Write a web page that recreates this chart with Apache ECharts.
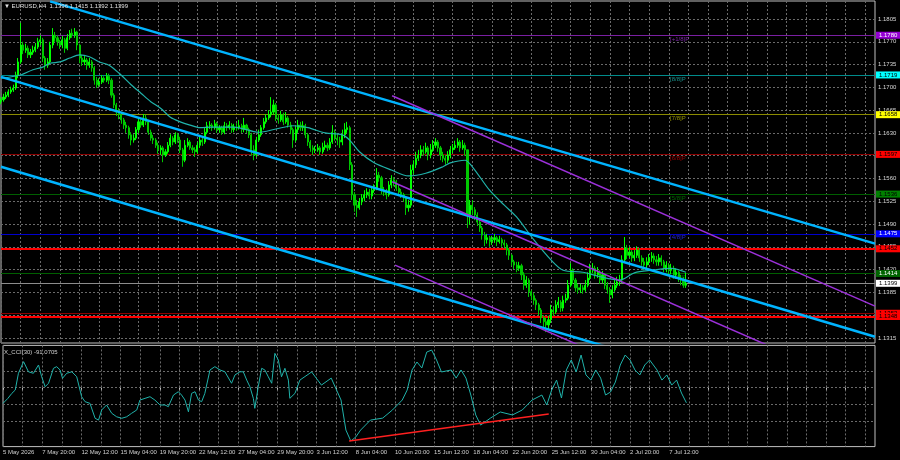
<!DOCTYPE html>
<html><head><meta charset="utf-8">
<script src="https://cdn.jsdelivr.net/npm/echarts@6/dist/echarts.min.js"></script>
<style>html,body{margin:0;padding:0;background:#000;}#c{width:900px;height:460px;}</style>
</head><body><div id="c"></div>
<script>
// ---- data ----
const firstOpen = 1.1678;
const closes = [
1.1681,1.1685,1.1688,1.1693,1.1696,1.1699,1.1719,1.1739,
1.1765,1.1757,1.1760,1.1750,1.1754,1.1757,1.1762,1.1770,
1.1773,1.1745,1.1734,1.1739,1.1765,1.1780,1.1776,1.1770,
1.1765,1.1773,1.1760,1.1776,1.1783,1.1780,1.1785,1.1765,
1.1745,1.1739,1.1742,1.1734,1.1739,1.1730,1.1711,1.1704,
1.1708,1.1714,1.1711,1.1717,1.1711,1.1688,1.1673,1.1662,
1.1658,1.1650,1.1642,1.1638,1.1627,1.1619,1.1622,1.1635,
1.1647,1.1642,1.1653,1.1647,1.1631,1.1622,1.1619,1.1611,
1.1604,1.1607,1.1596,1.1601,1.1611,1.1622,1.1616,1.1627,
1.1619,1.1604,1.1588,1.1611,1.1616,1.1607,1.1604,1.1601,
1.1611,1.1619,1.1616,1.1631,1.1641,1.1642,1.1638,1.1644,
1.1635,1.1638,1.1631,1.1641,1.1638,1.1642,1.1635,1.1639,
1.1638,1.1641,1.1635,1.1642,1.1635,1.1627,1.1604,1.1596,
1.1619,1.1627,1.1638,1.1647,1.1653,1.1658,1.1662,1.1673,
1.1653,1.1650,1.1658,1.1647,1.1653,1.1642,1.1635,1.1619,
1.1635,1.1642,1.1638,1.1641,1.1627,1.1616,1.1607,1.1604,
1.1604,1.1607,1.1601,1.1608,1.1611,1.1607,1.1616,1.1631,
1.1622,1.1619,1.1616,1.1627,1.1635,1.1638,1.1581,1.1535,
1.1519,1.1515,1.1524,1.1530,1.1535,1.1539,1.1533,1.1542,
1.1545,1.1565,1.1561,1.1542,1.1539,1.1535,1.1550,1.1558,
1.1555,1.1545,1.1539,1.1535,1.1530,1.1515,1.1519,1.1573,
1.1581,1.1591,1.1596,1.1604,1.1601,1.1607,1.1596,1.1604,
1.1611,1.1616,1.1607,1.1596,1.1591,1.1588,1.1596,1.1604,
1.1607,1.1611,1.1616,1.1607,1.1611,1.1604,1.1504,1.1519,
1.1512,1.1504,1.1493,1.1484,1.1473,1.1466,1.1469,1.1463,
1.1466,1.1469,1.1463,1.1466,1.1461,1.1458,1.1450,1.1442,
1.1432,1.1427,1.1422,1.1426,1.1412,1.1396,1.1404,1.1386,
1.1380,1.1373,1.1366,1.1358,1.1346,1.1340,1.1335,1.1343,
1.1358,1.1355,1.1366,1.1370,1.1361,1.1373,1.1376,1.1396,
1.1419,1.1404,1.1392,1.1389,1.1392,1.1389,1.1396,1.1407,
1.1419,1.1422,1.1412,1.1416,1.1404,1.1412,1.1396,1.1389,
1.1381,1.1389,1.1396,1.1401,1.1404,1.1435,1.1453,1.1442,
1.1447,1.1438,1.1442,1.1450,1.1438,1.1432,1.1427,1.1432,
1.1438,1.1441,1.1435,1.1432,1.1438,1.1432,1.1422,1.1427,
1.1419,1.1422,1.1412,1.1416,1.1407,1.1404,1.1396,1.1399];
const highs = [
1.1685,1.1690,1.1693,1.1697,1.1701,1.1704,1.1724,1.1745,
1.1799,1.1770,1.1767,1.1764,1.1759,1.1764,1.1768,1.1776,
1.1780,1.1776,1.1748,1.1745,1.1770,1.1791,1.1785,1.1780,
1.1773,1.1779,1.1776,1.1782,1.1788,1.1790,1.1791,1.1787,
1.1767,1.1750,1.1748,1.1745,1.1745,1.1742,1.1733,1.1716,
1.1714,1.1719,1.1717,1.1722,1.1721,1.1714,1.1691,1.1676,
1.1668,1.1662,1.1653,1.1647,1.1641,1.1631,1.1628,1.1639,
1.1653,1.1651,1.1659,1.1658,1.1650,1.1635,1.1627,1.1622,
1.1615,1.1611,1.1610,1.1605,1.1616,1.1628,1.1625,1.1631,
1.1630,1.1624,1.1607,1.1619,1.1622,1.1619,1.1611,1.1608,
1.1616,1.1624,1.1624,1.1638,1.1647,1.1648,1.1645,1.1650,
1.1647,1.1642,1.1641,1.1647,1.1645,1.1648,1.1645,1.1644,
1.1645,1.1650,1.1644,1.1653,1.1644,1.1638,1.1630,1.1611,
1.1624,1.1635,1.1642,1.1653,1.1659,1.1665,1.1685,1.1681,
1.1676,1.1659,1.1664,1.1661,1.1662,1.1656,1.1647,1.1638,
1.1641,1.1650,1.1647,1.1648,1.1644,1.1630,1.1619,1.1611,
1.1610,1.1613,1.1610,1.1615,1.1618,1.1615,1.1622,1.1642,
1.1635,1.1628,1.1624,1.1635,1.1645,1.1647,1.1641,1.1585,
1.1539,1.1527,1.1530,1.1536,1.1542,1.1545,1.1544,1.1548,
1.1551,1.1576,1.1570,1.1564,1.1547,1.1544,1.1556,1.1565,
1.1562,1.1558,1.1550,1.1544,1.1538,1.1533,1.1527,1.1581,
1.1588,1.1601,1.1604,1.1611,1.1610,1.1615,1.1610,1.1613,
1.1619,1.1622,1.1619,1.1610,1.1601,1.1596,1.1602,1.1610,
1.1613,1.1618,1.1622,1.1619,1.1619,1.1615,1.1604,1.1527,
1.1527,1.1516,1.1508,1.1496,1.1487,1.1478,1.1475,1.1472,
1.1472,1.1475,1.1472,1.1472,1.1469,1.1466,1.1461,1.1453,
1.1444,1.1435,1.1432,1.1432,1.1429,1.1416,1.1410,1.1407,
1.1389,1.1384,1.1376,1.1369,1.1361,1.1350,1.1346,1.1349,
1.1366,1.1364,1.1373,1.1378,1.1373,1.1380,1.1383,1.1404,
1.1430,1.1422,1.1407,1.1398,1.1398,1.1396,1.1404,1.1416,
1.1429,1.1430,1.1426,1.1424,1.1419,1.1418,1.1413,1.1401,
1.1393,1.1396,1.1404,1.1409,1.1412,1.1442,1.1470,1.1458,
1.1455,1.1450,1.1450,1.1456,1.1453,1.1442,1.1438,1.1439,
1.1444,1.1447,1.1445,1.1441,1.1444,1.1442,1.1435,1.1433,
1.1430,1.1429,1.1426,1.1422,1.1418,1.1412,1.1409,1.1415];
const lows = [
1.1674,1.1678,1.1682,1.1685,1.1690,1.1693,1.1696,1.1714,
1.1736,1.1751,1.1753,1.1745,1.1745,1.1750,1.1754,1.1759,
1.1765,1.1739,1.1727,1.1730,1.1736,1.1760,1.1770,1.1764,
1.1759,1.1760,1.1753,1.1757,1.1773,1.1776,1.1776,1.1757,
1.1737,1.1733,1.1734,1.1727,1.1730,1.1724,1.1704,1.1699,
1.1701,1.1705,1.1707,1.1708,1.1705,1.1684,1.1668,1.1656,
1.1651,1.1644,1.1636,1.1630,1.1621,1.1611,1.1615,1.1619,
1.1630,1.1638,1.1639,1.1642,1.1627,1.1618,1.1613,1.1607,
1.1598,1.1596,1.1585,1.1593,1.1598,1.1608,1.1611,1.1613,
1.1615,1.1599,1.1578,1.1585,1.1608,1.1604,1.1599,1.1593,
1.1598,1.1607,1.1610,1.1613,1.1628,1.1636,1.1633,1.1635,
1.1630,1.1630,1.1627,1.1628,1.1633,1.1635,1.1630,1.1631,
1.1633,1.1635,1.1630,1.1631,1.1630,1.1622,1.1595,1.1588,
1.1593,1.1616,1.1624,1.1635,1.1644,1.1650,1.1654,1.1658,
1.1648,1.1644,1.1647,1.1642,1.1644,1.1638,1.1628,1.1607,
1.1616,1.1630,1.1633,1.1633,1.1622,1.1610,1.1601,1.1596,
1.1599,1.1601,1.1596,1.1598,1.1604,1.1602,1.1604,1.1613,
1.1618,1.1611,1.1607,1.1611,1.1622,1.1630,1.1573,1.1527,
1.1509,1.1501,1.1512,1.1519,1.1525,1.1530,1.1528,1.1528,
1.1538,1.1542,1.1555,1.1536,1.1533,1.1528,1.1532,1.1545,
1.1548,1.1541,1.1533,1.1530,1.1524,1.1504,1.1509,1.1515,
1.1567,1.1576,1.1587,1.1591,1.1595,1.1598,1.1588,1.1591,
1.1601,1.1607,1.1601,1.1588,1.1585,1.1581,1.1584,1.1591,
1.1599,1.1604,1.1607,1.1601,1.1604,1.1595,1.1484,1.1489,
1.1504,1.1496,1.1487,1.1478,1.1466,1.1456,1.1460,1.1455,
1.1458,1.1461,1.1456,1.1460,1.1455,1.1452,1.1442,1.1435,
1.1426,1.1421,1.1416,1.1418,1.1404,1.1389,1.1392,1.1378,
1.1373,1.1366,1.1358,1.1350,1.1338,1.1330,1.1324,1.1327,
1.1338,1.1349,1.1352,1.1361,1.1355,1.1356,1.1369,1.1373,
1.1393,1.1398,1.1386,1.1383,1.1384,1.1383,1.1386,1.1393,
1.1404,1.1415,1.1406,1.1407,1.1398,1.1399,1.1390,1.1383,
1.1369,1.1376,1.1386,1.1392,1.1395,1.1399,1.1432,1.1436,
1.1438,1.1432,1.1433,1.1438,1.1432,1.1426,1.1419,1.1422,
1.1427,1.1432,1.1429,1.1426,1.1426,1.1426,1.1416,1.1416,
1.1413,1.1413,1.1406,1.1406,1.1401,1.1396,1.1392,1.1392];

// moving average: [bar index, price]
const maPoints = [[0,1.1714],[8,1.1719],[13,1.1727],[17,1.1731],[20,1.1737],[24,1.1739],[28,1.1745],[32,1.1750],[36,1.1747],[40,1.1739],[44,1.1734],[48,1.1722],[53,1.1704],[57,1.1691],[61,1.1678],[65,1.1668],[69,1.1654],[73,1.1647],[77,1.1642],[81,1.1638],[86,1.1639],[95,1.1639],[105,1.1631],[112,1.1636],[119,1.1641],[125,1.1638],[132,1.1630],[139,1.1627],[142,1.1619],[146,1.1601],[152,1.1584],[159,1.1573],[166,1.1564],[173,1.1568],[180,1.1578],[183,1.1584],[189,1.1588],[192,1.1578],[199,1.1542],[205,1.1519],[210,1.1501],[217,1.1466],[224,1.1435],[229,1.1419],[237,1.1416],[244,1.1409],[252,1.1404],[258,1.1415],[265,1.1419],[273,1.1422],[279,1.1416]];

// CCI(30): [bar index, value]
const cciPoints = [[0,-94],[2,-64],[3.6,-34],[5,-14],[6.3,87],[8.4,157],[10.4,96],[12.4,87],[14.5,137],[15.8,66],[17.2,6],[18.6,27],[20.6,117],[21.9,127],[23.3,107],[24.3,57],[26,87],[28.1,96],[30.1,66],[32.1,-54],[33.5,-84],[35.5,-94],[37.6,-184],[39,-195],[40.3,-134],[42.3,-104],[44.4,-154],[46.4,-175],[48.5,-184],[50.5,-175],[52.5,-154],[54.6,-134],[55.9,-74],[58,-64],[60,-54],[62,-74],[64.1,-104],[66.1,-104],[67.5,-114],[69.6,-44],[71.6,-24],[72.9,-44],[74.3,-74],[75.7,-145],[77,-34],[78.4,-24],[79.8,-74],[81.1,-84],[82.4,-34],[84.5,107],[86.5,127],[88.6,107],[90.6,96],[93.3,27],[94.7,77],[96.7,96],[98.1,96],[99.5,46],[100.8,6],[102.2,-64],[102.8,-124],[104.2,6],[105.6,117],[106.9,107],[108.3,66],[109.7,27],[111,207],[112.4,167],[113.7,66],[115.1,117],[116.5,46],[117.1,-64],[119.2,-34],[121.2,46],[126,95],[130,16],[134,58],[138,-74],[140,-255],[142,-321],[144,-297],[146,-255],[150,-195],[155,-183],[159,-134],[163,-74],[165,-14],[167,107],[169,155],[171,119],[173,215],[175,227],[177,167],[179,95],[183,107],[185,58],[187,107],[189,58],[191,-44],[193,-164],[195,-225],[199,-183],[203,-146],[208,-164],[212,-134],[216,-74],[220,-44],[222,-104],[224,-14],[226,46],[228,-62],[230,107],[232,167],[234,95],[236,197],[238,77],[240,46],[242,107],[244,58],[246,-44],[248,-26],[250,34],[252,137],[254,197],[256,167],[258,107],[260,77],[262,137],[264,167],[267,107],[269,46],[271,77],[273,16],[275,46],[277,-32],[279,-91]];

// trend lines: [startIndex, startPrice, endIndex, endPrice]
const blueChannel = [[20,1.1832,356,1.1460],[0,1.1716,356,1.1317],[0,1.1578,356,1.1179]];
const purpleChannel = [[159.3,1.1687,356,1.1364],[159.3,1.1555,356,1.1232],[160.5,1.1427,356,1.1106]];
const cciTrend = [[141.3,-321,222.8,-158]];

// x axis tick labels
const tickIdx = [0,16,32,48,64,80,96,112,128,144,160,176,192,208,224,240,256,272];
const tickText = ['5 May 2026','7 May 20:00','12 May 12:00','15 May 04:00','19 May 20:00','22 May 12:00','27 May 04:00','29 May 20:00','3 Jun 12:00','8 Jun 04:00','10 Jun 20:00','15 Jun 12:00','18 Jun 04:00','22 Jun 20:00','25 Jun 12:00','30 Jun 04:00','2 Jul 20:00','7 Jul 12:00'];
const priceTicks = [1.1315,1.1350,1.1385,1.1420,1.1455,1.1490,1.1525,1.1560,1.1595,1.1630,1.1665,1.1700,1.1735,1.1770,1.1805];
const levelValues = [1.1780,1.1719,1.1658,1.1597,1.1536,1.1475,1.1414,1.1353];
const levelNames = ['[+1/8]P','[8/8]P','[7/8]P','[6/8]P','[5/8]P','[4/8]P','[3/8]P','[2/8]P'];
const redLevels = [1.1452,1.1348];
const lastPrice = 1.1399;
const cciGridLevels = [100,0,-100,-200];
const cciLabelLevels = [255.0021,200,100,0,-100,-200,-250,-354.583];
const cciLabelText = ['255.0021','200','100','0.00','-100','-200','-250','-354.583'];
const titleText = '\u25BC EURUSD,H4  1.1396 1.1415 1.1392 1.1399';
const cciTitle = 'X_CCI(30) -91.0705';

// ---- styles ----
const FONT = 'Liberation Sans';
const levelLine = ['#7a1fa2','#008b8b','#8b8b00','#8b0000','#005f00','#0000cd','#005f00','#8b0000'];
const levelBox = ['#9400d3','#00ffff','#ffff00','#ff0000','#008000','#0000ff','#006400','#ff0000'];
const levelBoxText = ['#ffffff','#000000','#000000','#000000','#000000','#ffffff','#ffffff','#000000'];
const levelTextColor = ['#9932cc','#20b2aa','#b8b800','#c00000','#008000','#3030ff','#008000','#c00000'];

const N = 357;
const cats = new Array(N).fill('');
tickIdx.forEach((k, i) => { cats[k] = tickText[i]; });
const candles = closes.map((c, i) => [i === 0 ? firstOpen : closes[i - 1], c, lows[i], highs[i]]);
const vGrid = (i) => i % 8 === 0;

const gridLineStyle = { color: '#6a6a6a', type: [2, 2], width: 1 };

const option = {
  backgroundColor: '#000000',
  animation: false,
  grid: [
    { left: 1, top: 1, width: 874, height: 342, show: true, borderColor: '#c0c0c0', borderWidth: 1, backgroundColor: '#000' },
    { left: 1, top: 345.4, width: 874, height: 101.2, show: true, borderColor: '#c0c0c0', borderWidth: 1, backgroundColor: '#000' }
  ],
  xAxis: [
    { type: 'category', gridIndex: 0, data: cats, boundaryGap: false,
      axisLine: { show: false }, axisTick: { show: false }, axisLabel: { show: false },
      splitLine: { show: true, interval: vGrid, lineStyle: gridLineStyle } },
    { type: 'value', gridIndex: 0, min: 0, max: N - 1, show: false },
    { type: 'category', gridIndex: 1, data: cats, boundaryGap: false,
      axisLine: { show: false },
      axisTick: { show: true, interval: vGrid, length: 2, lineStyle: { color: '#c0c0c0' } },
      axisLabel: { show: true, interval: (i, v) => v !== '', align: 'left', margin: 3,
                   color: '#d0d0d0', fontSize: 6, fontFamily: FONT },
      splitLine: { show: true, interval: vGrid, lineStyle: gridLineStyle } },
    { type: 'value', gridIndex: 1, min: 0, max: N - 1, show: false }
  ],
  yAxis: [
    { type: 'value', gridIndex: 0, min: 1.13073, max: 1.18326, position: 'right',
      axisLine: { show: false }, axisTick: { show: false }, axisLabel: { show: false }, splitLine: { show: false } },
    { type: 'value', gridIndex: 1, min: -354.583, max: 255.0021, position: 'right',
      axisLine: { show: false }, axisTick: { show: false }, axisLabel: { show: false }, splitLine: { show: false } }
  ],
  graphic: [
    { type: 'text', left: 4, top: 3, z: 100, style: { text: titleText, fill: '#e0e0e0', fontSize: 6, fontFamily: FONT } },
    { type: 'text', left: 4, top: 349, z: 100, style: { text: cciTitle, fill: '#d0d0d0', fontSize: 6, fontFamily: FONT } }
  ],
  series: []
};

// price grid lines + labels on the right
option.series.push({
  type: 'line', xAxisIndex: 1, yAxisIndex: 0, data: [], z: 1, silent: true,
  markLine: { symbol: ['none', 'none'], silent: true, animation: false, precision: 4,
    lineStyle: gridLineStyle,
    label: { show: true, position: 'end', distance: 3, color: '#d8d8d8', fontSize: 6, fontFamily: FONT,
             formatter: (p) => Number(p.value).toFixed(4) },
    data: priceTicks.map(v => ({ yAxis: v })) }
});

// Murrey levels, red levels, last price
const lvlData = levelValues.map((v, i) => ({
  yAxis: v,
  lineStyle: { color: levelLine[i], width: 1, type: 'solid' },
  label: { backgroundColor: levelBox[i], color: levelBoxText[i] }
}));
redLevels.forEach(v => lvlData.push({ yAxis: v, lineStyle: { color: '#ff0000', width: 2, type: 'solid' },
  label: { backgroundColor: '#ff0000', color: '#000000' } }));
lvlData.push({ yAxis: lastPrice, lineStyle: { color: '#8c8c8c', width: 1, type: 'solid' },
  label: { backgroundColor: '#ffffff', color: '#000000' } });
option.series.push({
  type: 'line', xAxisIndex: 1, yAxisIndex: 0, data: [], z: 2, silent: true,
  markLine: { symbol: ['none', 'none'], silent: true, animation: false, precision: 4,
    label: { show: true, position: 'end', distance: 1, fontSize: 6, fontFamily: FONT, padding: [1, 3, 0, 3],
             formatter: (p) => Number(p.value).toFixed(4) },
    data: lvlData }
});

// Murrey level names
option.series.push({
  type: 'scatter', xAxisIndex: 1, yAxisIndex: 0, z: 2, silent: true, symbolSize: 0,
  data: levelValues.map((v, i) => ({ value: [272.5, v], label: { color: levelTextColor[i] } })),
  label: { show: true, position: [0, 1], fontSize: 6, fontFamily: FONT, formatter: (p) => levelNames[p.dataIndex] }
});

// candles
option.series.push({
  type: 'candlestick', xAxisIndex: 0, yAxisIndex: 0, z: 5, data: candles, barWidth: 1.6,
  itemStyle: { color: '#00ff00', color0: '#00c800', borderColor: '#00ff00', borderColor0: '#00c800', borderWidth: 1 }
});

// moving average
option.series.push({
  type: 'line', xAxisIndex: 1, yAxisIndex: 0, z: 6, data: maPoints, showSymbol: false, smooth: 0.3,
  lineStyle: { color: '#20b2aa', width: 1.2 }
});

// channels
blueChannel.forEach(s => option.series.push({
  type: 'line', xAxisIndex: 1, yAxisIndex: 0, z: 7, data: [[s[0], s[1]], [s[2], s[3]]], showSymbol: false, clip: true,
  lineStyle: { color: '#00b4ff', width: 2.5 }
}));
purpleChannel.forEach(s => option.series.push({
  type: 'line', xAxisIndex: 1, yAxisIndex: 0, z: 7, data: [[s[0], s[1]], [s[2], s[3]]], showSymbol: false, clip: true,
  lineStyle: { color: '#9b30d9', width: 1.5 }
}));

// CCI panel
option.series.push({
  type: 'line', xAxisIndex: 3, yAxisIndex: 1, data: [], z: 1, silent: true,
  markLine: { symbol: ['none', 'none'], silent: true, animation: false, precision: 4,
    lineStyle: gridLineStyle, label: { show: false },
    data: cciGridLevels.map(v => ({ yAxis: v })) }
});
option.series.push({
  type: 'line', xAxisIndex: 3, yAxisIndex: 1, data: [], z: 2, silent: true,
  markLine: { symbol: ['none', 'none'], silent: true, animation: false, precision: 4,
    lineStyle: { opacity: 0 },
    label: { show: true, position: 'end', distance: 3, color: '#d8d8d8', fontSize: 6, fontFamily: FONT },
    data: cciLabelLevels.map((v, i) => ({ yAxis: v,
      label: { formatter: cciLabelText[i], offset: [0, i === 0 ? 3 : (i === cciLabelLevels.length - 1 ? -3 : 0)] } })) }
});
option.series.push({
  type: 'line', xAxisIndex: 3, yAxisIndex: 1, z: 5, data: cciPoints, showSymbol: false,
  lineStyle: { color: '#20b2aa', width: 1 }
});
cciTrend.forEach(s => option.series.push({
  type: 'line', xAxisIndex: 3, yAxisIndex: 1, z: 6, data: [[s[0], s[1]], [s[2], s[3]]], showSymbol: false,
  lineStyle: { color: '#ff2020', width: 1.5 }
}));

const chart = echarts.init(document.getElementById('c'), null, { renderer: 'canvas' });
chart.setOption(option);
</script>
</body></html>
